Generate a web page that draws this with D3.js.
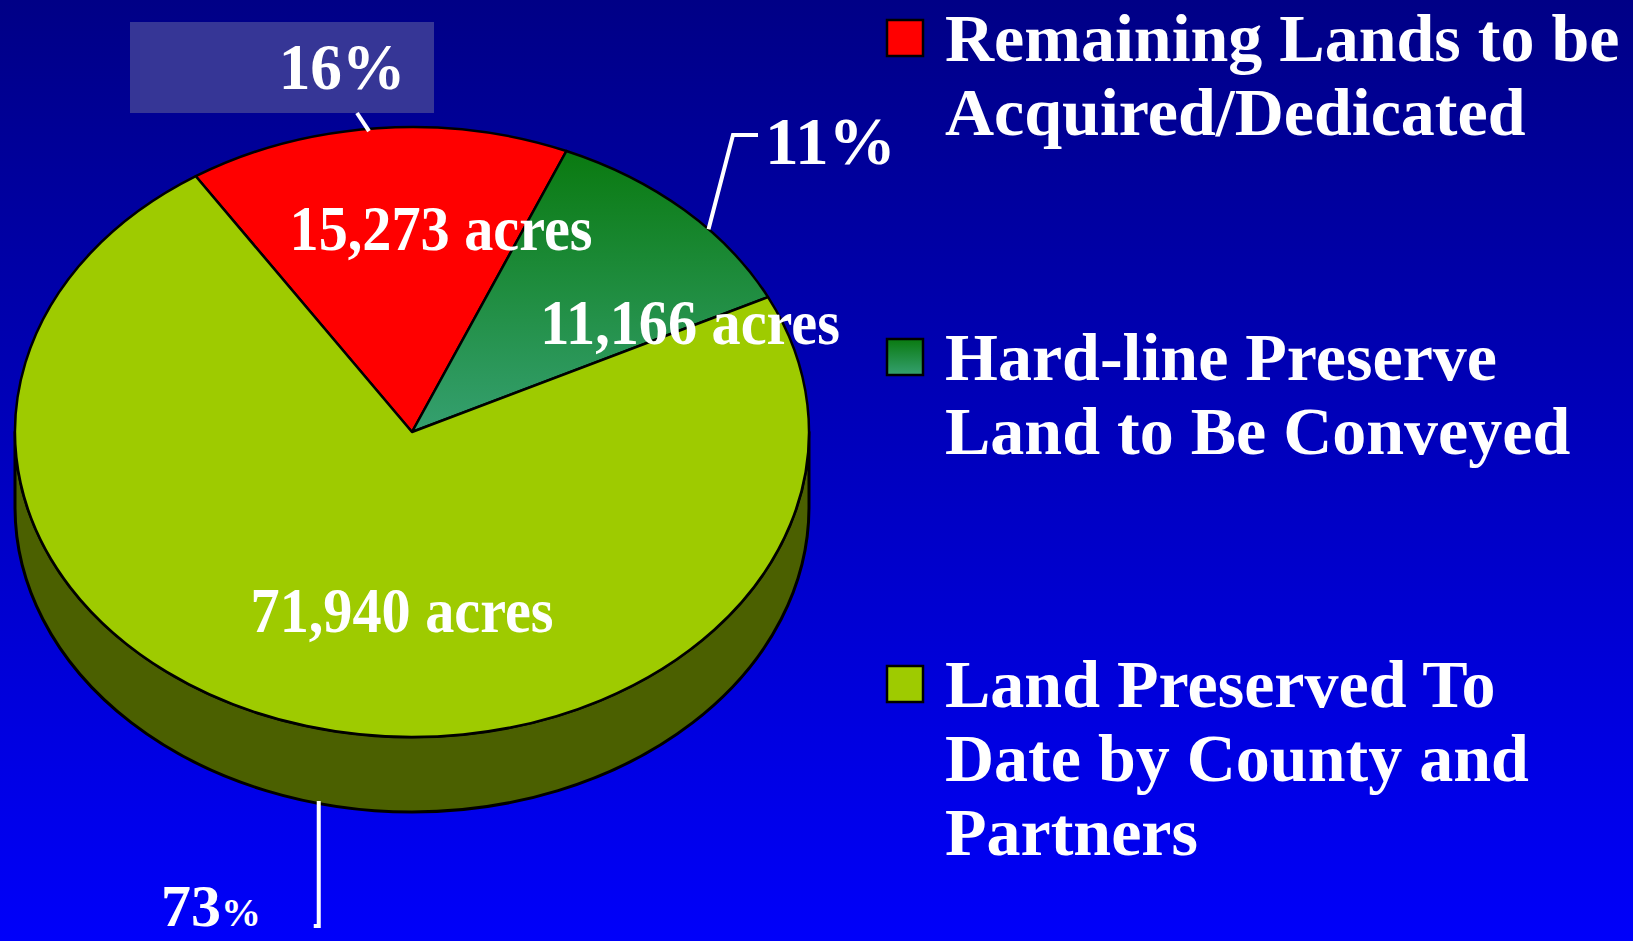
<!DOCTYPE html>
<html lang="en">
<head>
<meta charset="utf-8">
<title>Land Preservation</title>
<script src="https://d3js.org/d3.v7.min.js"></script>
<style>
  html, body { margin: 0; padding: 0; overflow: hidden; }
  svg { display: block; }
  text { font-family: "Liberation Serif", "Times New Roman", serif; font-weight: bold; fill: #fff; }
</style>
</head>
<body>
<div id="chart"></div>
<script>
// Data
const categories = ["Remaining Lands to be Acquired/Dedicated",
                    "Hard-line Preserve Land to Be Conveyed",
                    "Land Preserved To Date by County and Partners"];
const legendLines = [["Remaining Lands to be", "Acquired/Dedicated"],
                     ["Hard-line Preserve", "Land to Be Conveyed"],
                     ["Land Preserved To", "Date by County and", "Partners"]];
const acres = [15273, 11166, 71940];

// Styles
const topColors = ["#ff0000", "url(#greenGrad)", "#9ecb00"];
const sideColors = ["#800000", "#0a4d2a", "#4b6000"];

const width = 1633, height = 941;
const cx = 412, cy = 432, rx = 397, ry = 305, depth = 75;
const start = -33 * Math.PI / 180;

const svg = d3.select("#chart").append("svg")
    .attr("width", width).attr("height", height);

const defs = svg.append("defs");
const bg = defs.append("linearGradient").attr("id", "bgGrad")
    .attr("x1", 0).attr("y1", 0).attr("x2", 0).attr("y2", 1);
bg.append("stop").attr("offset", "0%").attr("stop-color", "#000086");
bg.append("stop").attr("offset", "100%").attr("stop-color", "#0000fa");
const gg = defs.append("linearGradient").attr("id", "greenGrad")
    .attr("x1", 0).attr("y1", 0).attr("x2", 0).attr("y2", 1);
gg.append("stop").attr("offset", "0%").attr("stop-color", "#0a7a10");
gg.append("stop").attr("offset", "100%").attr("stop-color", "#35a070");

svg.append("rect").attr("width", width).attr("height", height).attr("fill", "url(#bgGrad)");

// Pie layout
const pie = d3.pie().sort(null).startAngle(start).endAngle(start + 2 * Math.PI);
const arcs = pie(acres);
const total = d3.sum(acres);
const pct = d3.format(".0%");

const ex = a => cx + rx * Math.sin(a);
const ey = (a, dz = 0) => cy - ry * Math.cos(a) + dz;

// Side wall (front half only)
arcs.forEach((d, i) => {
  const a0 = Math.max(d.startAngle, Math.PI / 2);
  const a1 = Math.min(d.endAngle, 3 * Math.PI / 2);
  if (a1 <= a0) return;
  const path = `M${ex(a0)},${ey(a0)} L${ex(a0)},${ey(a0, depth)}` +
    ` A${rx},${ry} 0 0 1 ${ex(a1)},${ey(a1, depth)}` +
    ` L${ex(a1)},${ey(a1)} A${rx},${ry} 0 0 0 ${ex(a0)},${ey(a0)} Z`;
  svg.append("path").attr("d", path)
      .attr("fill", sideColors[i])
      .attr("stroke", "#000").attr("stroke-width", 3)
      .attr("stroke-linejoin", "round");
});

// Top face
const arc = d3.arc().innerRadius(0).outerRadius(rx);
svg.append("g")
    .attr("transform", `translate(${cx},${cy}) scale(1,${ry / rx})`)
  .selectAll("path")
  .data(arcs)
  .join("path")
    .attr("d", arc)
    .attr("fill", (d, i) => topColors[i])
    .attr("stroke", "#000")
    .attr("stroke-width", 2.5)
    .attr("stroke-linejoin", "round")
    .attr("vector-effect", "non-scaling-stroke");

// Acre labels inside slices
const acreLabelPos = [[441, 250], [690, 344], [402, 632]];
arcs.forEach((d, i) => {
  svg.append("text")
      .attr("transform", `translate(${acreLabelPos[i][0]},${acreLabelPos[i][1]}) scale(0.91,1)`)
      .attr("text-anchor", "middle")
      .attr("font-size", 64)
      .text(`${d3.format(",")(d.data)} acres`);
});

// Percent callouts
const mid = d => (d.startAngle + d.endAngle) / 2;

// 16%
svg.append("rect").attr("x", 130).attr("y", 22).attr("width", 304).attr("height", 91)
    .attr("fill", "#363696");
svg.append("line")
    .attr("x1", 357).attr("y1", 113)
    .attr("x2", ex(mid(arcs[0])) - 8).attr("y2", ey(mid(arcs[0])) + 3)
    .attr("stroke", "#fff").attr("stroke-width", 4);
svg.append("text")
    .attr("transform", "translate(342,89) scale(0.96,1)")
    .attr("text-anchor", "middle").attr("font-size", 66)
    .text(pct(acres[0] / total));

// 11%
const g1 = mid(arcs[1]) + 5 * Math.PI / 180;
svg.append("path")
    .attr("d", `M758,135 L733,135 L${ex(g1)},${ey(g1)}`)
    .attr("fill", "none").attr("stroke", "#fff").attr("stroke-width", 4);
svg.append("text")
    .attr("transform", "translate(765,164) scale(0.99,1)")
    .attr("font-size", 68)
    .text(pct(acres[1] / total));

// 73%
const y2 = mid(arcs[2]);
const lx = ex(y2) + 12;
svg.append("path")
    .attr("d", `M${lx},${ey(y2, depth)} L${lx},926 L${lx - 5},926`)
    .attr("fill", "none").attr("stroke", "#fff").attr("stroke-width", 4);
const t73 = svg.append("text")
    .attr("x", 161).attr("y", 926)
    .attr("font-size", 60);
const p73 = pct(acres[2] / total);
t73.append("tspan").text(p73.replace("%", ""));
t73.append("tspan").attr("font-size", 40).text("%");

// Legend
const legendTop = [20, 339, 666];
const legend = svg.append("g");
categories.forEach((c, i) => {
  legend.append("rect")
      .attr("x", 887).attr("y", legendTop[i])
      .attr("width", 36).attr("height", 36)
      .attr("fill", topColors[i])
      .attr("stroke", "#000").attr("stroke-width", 2.5);
  legendLines[i].forEach((line, j) => {
    legend.append("text")
        .attr("x", 945).attr("y", legendTop[i] + 41 + j * 74)
        .attr("font-size", 68)
        .text(line);
  });
});
</script>
</body>
</html>
